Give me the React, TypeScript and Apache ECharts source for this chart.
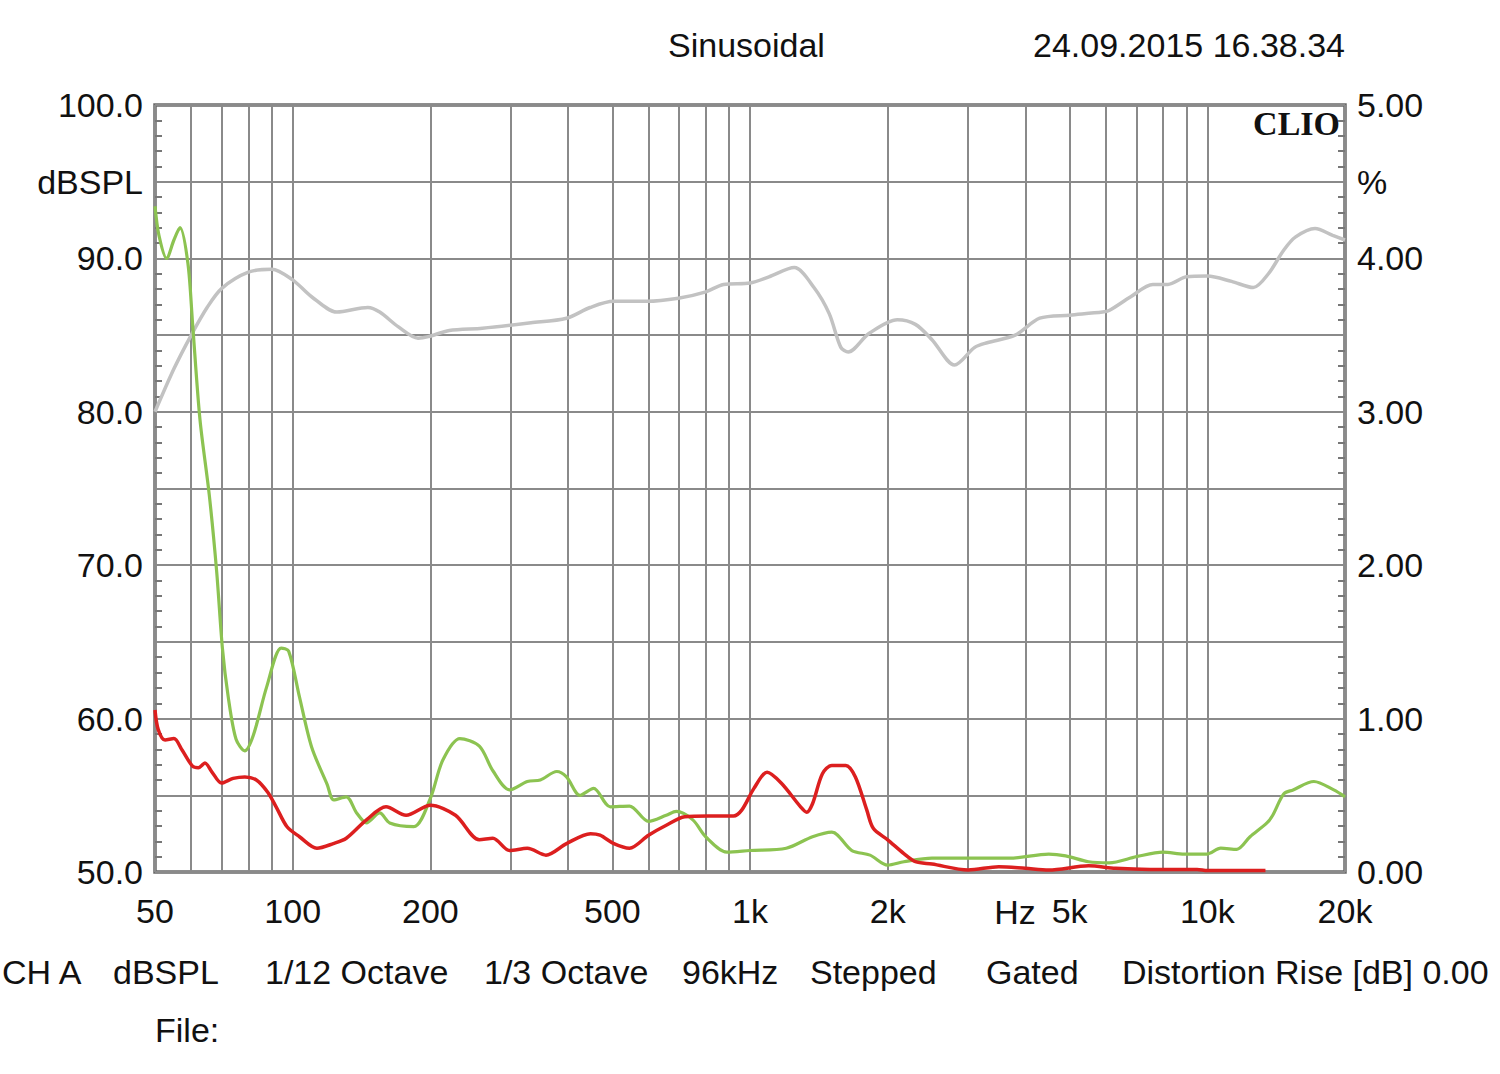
import React, { useEffect, useRef } from 'react';
import * as echarts from 'echarts';

// Frequency response (gray), dBSPL on left axis
const grayFreq = [50, 55, 60, 65, 70, 80, 90, 100, 110, 125, 146, 155, 170, 188, 198, 220, 260, 332, 397, 447, 503, 595, 697, 797, 875, 1000, 1100, 1250, 1380, 1490, 1580, 1640, 1820, 2100, 2300, 2500, 2800, 3100, 3300, 3800, 4300, 5000, 5900, 6100, 6800, 7600, 8200, 9000, 10000, 11300, 12600, 13600, 14700, 15600, 17200, 18800, 20000];
const grayDb = [80.0, 82.8, 85.0, 86.8, 88.05, 89.1, 89.3, 88.6, 87.5, 86.5, 86.8, 86.5, 85.55, 84.8, 84.9, 85.3, 85.45, 85.8, 86.1, 86.8, 87.2, 87.2, 87.4, 87.8, 88.3, 88.4, 88.8, 89.4, 88.1, 86.4, 84.2, 83.9, 85.1, 86.0, 85.7, 84.7, 83.05, 84.2, 84.5, 85.0, 86.1, 86.3, 86.5, 86.6, 87.5, 88.3, 88.3, 88.8, 88.85, 88.5, 88.1, 89.0, 90.55, 91.4, 91.95, 91.5, 91.2];

// Distortion (green), % on right axis
const greenFreq = [50, 51, 53, 55, 56.7, 59, 60.4, 62.7, 65.7, 68.2, 70.2, 72.3, 75.2, 78.6, 82, 87.8, 94.4, 98, 103.5, 110, 119, 123, 131, 138, 145, 155, 163, 184, 200, 213, 232, 256, 274, 298, 326, 348, 378, 397, 425, 455, 495, 545, 600, 656, 690, 750, 800, 890, 1000, 1200, 1370, 1510, 1670, 1830, 2000, 2170, 2500, 3000, 3700, 4500, 4900, 5500, 6100, 7000, 8000, 8900, 9970, 10700, 11600, 12400, 13500, 13900, 14700, 15400, 17100, 18900, 20000];
const greenPct = [4.34, 4.15, 4.0, 4.12, 4.2, 3.97, 3.58, 2.95, 2.46, 1.96, 1.46, 1.14, 0.865, 0.79, 0.89, 1.21, 1.46, 1.44, 1.14, 0.815, 0.57, 0.47, 0.49, 0.385, 0.32, 0.385, 0.32, 0.296, 0.48, 0.73, 0.87, 0.82, 0.66, 0.535, 0.59, 0.6, 0.655, 0.62, 0.5, 0.545, 0.425, 0.43, 0.33, 0.37, 0.395, 0.34, 0.23, 0.13, 0.14, 0.155, 0.23, 0.26, 0.14, 0.11, 0.045, 0.067, 0.09, 0.09, 0.09, 0.117, 0.105, 0.067, 0.06, 0.1, 0.13, 0.117, 0.117, 0.155, 0.148, 0.23, 0.32, 0.37, 0.51, 0.535, 0.59, 0.535, 0.49];

// Distortion (red), % on right axis
const redFreq = [50, 50.8, 52.6, 55, 57.3, 60.4, 62.2, 64.3, 66.5, 69.9, 74.1, 78.6, 83.3, 88.2, 92, 97.2, 103.5, 113, 122.7, 131, 145, 160, 177, 200, 227, 256, 274, 298, 326, 358, 397, 448, 470, 504, 545, 600, 656, 720, 810, 920, 960, 1020, 1090, 1170, 1290, 1330, 1370, 1440, 1510, 1620, 1700, 1800, 1860, 2000, 2170, 2300, 2500, 3000, 3500, 4000, 4500, 5500, 6300, 7500, 9500, 10000, 13400];
const redPct = [1.056, 0.93, 0.86, 0.87, 0.795, 0.69, 0.68, 0.71, 0.655, 0.58, 0.61, 0.62, 0.6, 0.52, 0.425, 0.295, 0.23, 0.155, 0.185, 0.22, 0.34, 0.425, 0.37, 0.435, 0.37, 0.21, 0.22, 0.14, 0.155, 0.11, 0.185, 0.25, 0.24, 0.185, 0.155, 0.24, 0.305, 0.36, 0.365, 0.365, 0.405, 0.545, 0.65, 0.58, 0.425, 0.39, 0.445, 0.64, 0.695, 0.695, 0.62, 0.405, 0.285, 0.21, 0.12, 0.067, 0.052, 0.013, 0.035, 0.024, 0.013, 0.04, 0.024, 0.017, 0.017, 0.01, 0.01];

const xLabelFreqs = [50, 100, 200, 500, 1000, 2000, 5000, 10000, 20000];
const gridFreqs = [50, 60, 70, 80, 90, 100, 200, 300, 400, 500, 600, 700, 800, 900, 1000, 2000, 3000, 4000, 5000, 6000, 7000, 8000, 9000, 10000, 20000];

const footerTexts: [string, number][] = [
  ['CH A', 2], ['dBSPL', 113], ['1/12 Octave', 265], ['1/3 Octave', 484], ['96kHz', 682],
  ['Stepped', 810], ['Gated', 986], ['Distortion Rise [dB] 0.00', 1122],
];

const FONT = '"Liberation Sans", Arial, sans-serif';
const lg = (f: number) => Math.log10(f);

export default function App() {
  const ref = useRef<HTMLDivElement>(null);
  useEffect(() => {
    if (!ref.current) return;
    const chart = echarts.init(ref.current, undefined, { renderer: 'svg' });
    const pair = (fs: number[], vs: number[]) => fs.map((f, i) => [lg(f), vs[i]]);
    const textStyle = (text: string, x: number, y: number, align = 'left', extra: any = {}) => ({
      type: 'text', x, y, silent: true,
      style: { text, fill: '#111', font: `34px ${FONT}`, textAlign: align, textVerticalAlign: 'middle', ...extra },
    });
    chart.setOption({
      animation: false,
      backgroundColor: '#ffffff',
      grid: { left: 155, top: 105, width: 1190, height: 767, show: true, borderColor: '#6a6a6a', borderWidth: 3.5, backgroundColor: 'transparent' },
      xAxis: {
        type: 'value', min: lg(50), max: lg(20000),
        axisLine: { show: false },
        axisTick: { show: false, customValues: gridFreqs.map(lg) },
        splitLine: { show: true, lineStyle: { color: '#8a8a8a', width: 2 } },
        axisLabel: {
          customValues: xLabelFreqs.map(lg), margin: 22, color: '#111', fontSize: 34, fontFamily: FONT,
          formatter: (v: number) => { const f = Math.round(Math.pow(10, v)); return f >= 1000 ? f / 1000 + 'k' : String(f); },
        },
      },
      yAxis: [
        {
          type: 'value', min: 50, max: 100, interval: 5, position: 'left',
          axisLine: { show: false },
          axisTick: { show: false, inside: true },
          minorTick: { show: true, splitNumber: 5, length: 7, lineStyle: { color: '#777', width: 2 } },
          splitLine: { show: true, lineStyle: { color: '#8a8a8a', width: 2 } },
          axisLabel: {
            margin: 12, color: '#111', fontSize: 34, fontFamily: FONT,
            formatter: (v: number) => (Math.abs(v % 10) < 1e-6 ? v.toFixed(1) : Math.abs(v - 95) < 1e-6 ? 'dBSPL' : ''),
          },
        },
        {
          type: 'value', min: 0, max: 5, interval: 0.5, position: 'right',
          axisLine: { show: false },
          axisTick: { show: false, inside: true },
          minorTick: { show: true, splitNumber: 5, length: 7, lineStyle: { color: '#777', width: 2 } },
          splitLine: { show: false },
          axisLabel: {
            margin: 12, color: '#111', fontSize: 34, fontFamily: FONT,
            formatter: (v: number) => (Math.abs(v - Math.round(v)) < 1e-6 ? v.toFixed(2) : Math.abs(v - 4.5) < 1e-6 ? '%' : ''),
          },
        },
      ],
      series: [
        { type: 'line', name: 'Response', yAxisIndex: 0, data: pair(grayFreq, grayDb), showSymbol: false, smooth: 0.3, lineStyle: { color: '#c2c2c2', width: 3.5 }, z: 3 },
        { type: 'line', name: 'Green', yAxisIndex: 1, data: pair(greenFreq, greenPct), showSymbol: false, smooth: 0.3, lineStyle: { color: '#8cc351', width: 3.2 }, z: 4 },
        { type: 'line', name: 'Red', yAxisIndex: 1, data: pair(redFreq, redPct), showSymbol: false, smooth: 0.3, lineStyle: { color: '#dc1f1f', width: 3.5 }, z: 5 },
      ],
      graphic: [
        textStyle('Sinusoidal', 668, 45),
        textStyle('24.09.2015 16.38.34', 1345, 45, 'right'),
        textStyle('CLIO', 1340, 123, 'right', { font: `bold 34px "Liberation Serif", "Times New Roman", serif` }),
        textStyle('Hz', 1015, 912, 'center'),
        ...footerTexts.map(([t, x]) => textStyle(t, x, 972)),
        textStyle('File:', 155, 1030),
      ],
    });
    return () => chart.dispose();
  }, []);
  return <div ref={ref} style={{ position: 'fixed', left: 0, top: 0, width: 1500, height: 1074, background: '#fff' }} />;
}
